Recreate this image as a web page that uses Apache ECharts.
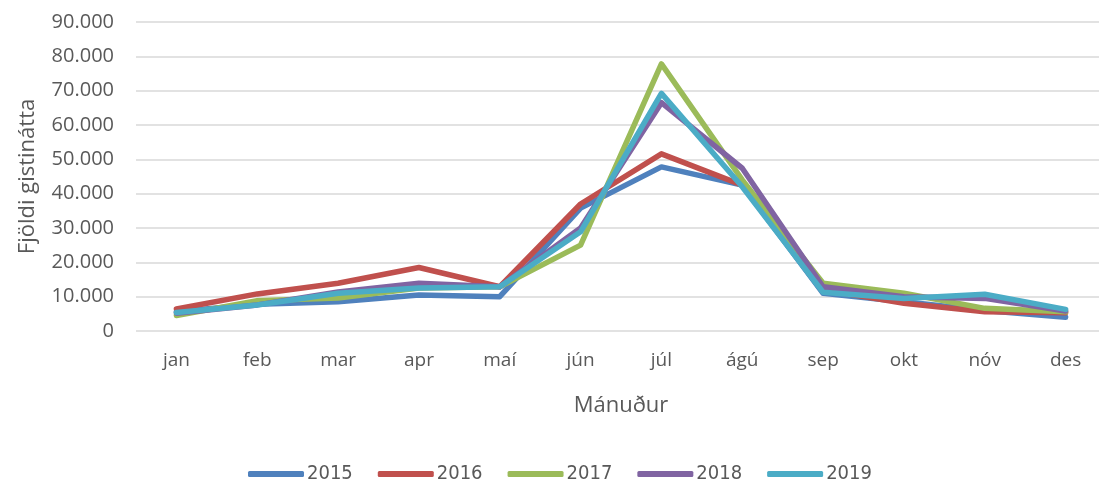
<!DOCTYPE html>
<html><head><meta charset="utf-8">
<script src="https://cdn.jsdelivr.net/npm/echarts@6/dist/echarts.min.js"></script>
<style>html,body{margin:0;padding:0;background:#fff}#c{width:1099px;height:481px}</style>
</head><body><div id="c"></div>
<script>
const months = ['jan','feb','mar','apr','maí','jún','júl','ágú','sep','okt','nóv','des'];
const years = ['2015','2016','2017','2018','2019'];
const s2015 = [5600, 7800, 8500, 10500, 10000, 35800, 47800, 42500, 11000, 8500, 6000, 4000];
const s2016 = [6400, 10800, 13900, 18500, 12900, 37000, 51600, 42500, 12000, 8100, 5600, 5300];
const s2017 = [4500, 8800, 9600, 12500, 12900, 25000, 77800, 44000, 13900, 11000, 6600, 5600];
const s2018 = [5200, 7600, 11400, 13900, 12900, 30000, 66500, 47400, 12900, 10000, 9500, 5800];
const s2019 = [5400, 7600, 11000, 12500, 12900, 28900, 69200, 42000, 11300, 9500, 10700, 6300];
const yTicks = [0, 10000, 20000, 30000, 40000, 50000, 60000, 70000, 80000, 90000];
const colors = ['#4F81BD','#C0504D','#9BBB59','#8064A2','#4BACC6'];
const allSeries = [s2015, s2016, s2017, s2018, s2019];

function fmt(v){ return v === 0 ? '0' : String(v).replace(/\B(?=(\d{3})+(?!\d))/g, '.'); }

const chart = echarts.init(document.getElementById('c'));
chart.setOption({
  animation: false,
  color: colors,
  grid: { left: 136, width: 970, top: 22, bottom: 150, outerBoundsMode: 'none', containLabel: false },
  legend: {
    top: 459, left: 243,
    itemWidth: 56, itemHeight: 6, itemGap: 25,
    icon: 'roundRect',
    textStyle: { fontFamily: "'DejaVu Sans Condensed', 'Liberation Sans', sans-serif", fontSize: 20, color: '#595959', padding: [0,0,0,-2] },
    data: years
  },
  xAxis: {
    type: 'category', data: months, boundaryGap: true,
    name: 'Mánuður', nameLocation: 'middle', nameGap: 64,
    nameTextStyle: { fontFamily: 'Open Sans', fontSize: 22, color: '#595959' },
    axisLine: { show: false }, axisTick: { show: false },
    axisLabel: { fontFamily: 'Open Sans', fontSize: 19, color: '#595959', margin: 20 }
  },
  yAxis: {
    type: 'value', min: yTicks[0], max: yTicks[yTicks.length-1], interval: 10000,
    name: 'Fjöldi gistinátta', nameLocation: 'middle', nameGap: 97,
    nameTextStyle: { fontFamily: 'Open Sans', fontSize: 22, color: '#595959' },
    axisLine: { show: false }, axisTick: { show: false },
    axisLabel: { fontFamily: 'Open Sans', fontSize: 20, color: '#595959', margin: 22, formatter: fmt },
    splitLine: { lineStyle: { color: '#D9D9D9', width: 1.5 } }
  },
  series: years.map((y, i) => ({
    name: y, type: 'line', data: allSeries[i], symbol: 'none',
    lineStyle: { width: 5.5, color: colors[i], cap: 'round', join: 'round' }
  }))
});
</script></body></html>
